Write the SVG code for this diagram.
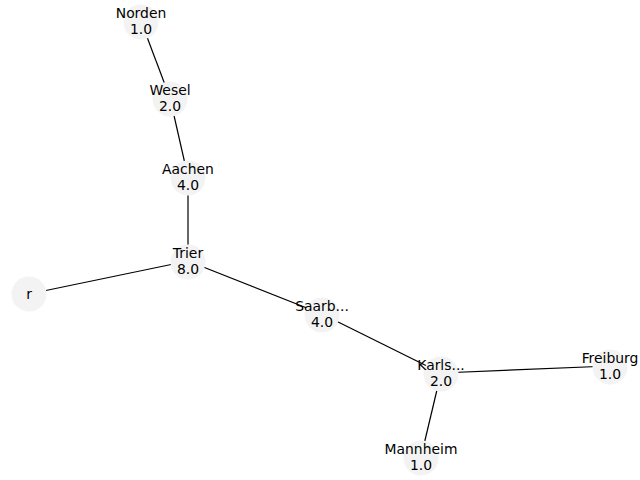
<svg xmlns="http://www.w3.org/2000/svg" width="640" height="480" viewBox="0 0 640 480">
  <style>
    .edge { stroke: #000; stroke-width: 1.2; fill: none; }
    .node circle { fill: #f3f3f3; stroke: none; }
    .node text { font-family: "DejaVu Sans", sans-serif; font-size: 13.9px; fill: #000; text-anchor: middle; }
  </style>
  <rect width="640" height="480" fill="#fff"/>
  <g id="edges">
    <line class="edge" x1="141" y1="21" x2="170" y2="98"/>
    <line class="edge" x1="170" y1="98" x2="188" y2="177"/>
    <line class="edge" x1="188" y1="177" x2="188" y2="261"/>
    <line class="edge" x1="188" y1="261" x2="29" y2="294"/>
    <line class="edge" x1="188" y1="261" x2="322" y2="314"/>
    <line class="edge" x1="322" y1="314" x2="441" y2="373"/>
    <line class="edge" x1="441" y1="373" x2="610" y2="366"/>
    <line class="edge" x1="441" y1="373" x2="421" y2="457"/>
  </g>
  <g id="node-norden" class="node">
    <circle cx="141" cy="22" r="17.5"/>
    <text x="141" y="18">Norden</text>
    <text x="141" y="34">1.0</text>
  </g>
  <g id="node-wesel" class="node">
    <circle cx="170" cy="99" r="17.5"/>
    <text x="170" y="95">Wesel</text>
    <text x="170" y="111">2.0</text>
  </g>
  <g id="node-aachen" class="node">
    <circle cx="188" cy="178" r="17.5"/>
    <text x="188" y="174">Aachen</text>
    <text x="188" y="190">4.0</text>
  </g>
  <g id="node-trier" class="node">
    <circle cx="188" cy="262" r="17.5"/>
    <text x="188" y="258">Trier</text>
    <text x="188" y="274">8.0</text>
  </g>
  <g id="node-r" class="node">
    <circle cx="29" cy="294" r="17.5"/>
    <text x="29" y="299">r</text>
  </g>
  <g id="node-saarb" class="node">
    <circle cx="322" cy="315" r="17.5"/>
    <text x="322" y="311">Saarb...</text>
    <text x="322" y="327">4.0</text>
  </g>
  <g id="node-karls" class="node">
    <circle cx="441" cy="374" r="17.5"/>
    <text x="441" y="370">Karls...</text>
    <text x="441" y="386">2.0</text>
  </g>
  <g id="node-freiburg" class="node">
    <circle cx="610" cy="367" r="17.5"/>
    <text x="610" y="363">Freiburg</text>
    <text x="610" y="379">1.0</text>
  </g>
  <g id="node-mannheim" class="node">
    <circle cx="421" cy="458" r="17.5"/>
    <text x="421" y="454">Mannheim</text>
    <text x="421" y="470">1.0</text>
  </g>
</svg>
